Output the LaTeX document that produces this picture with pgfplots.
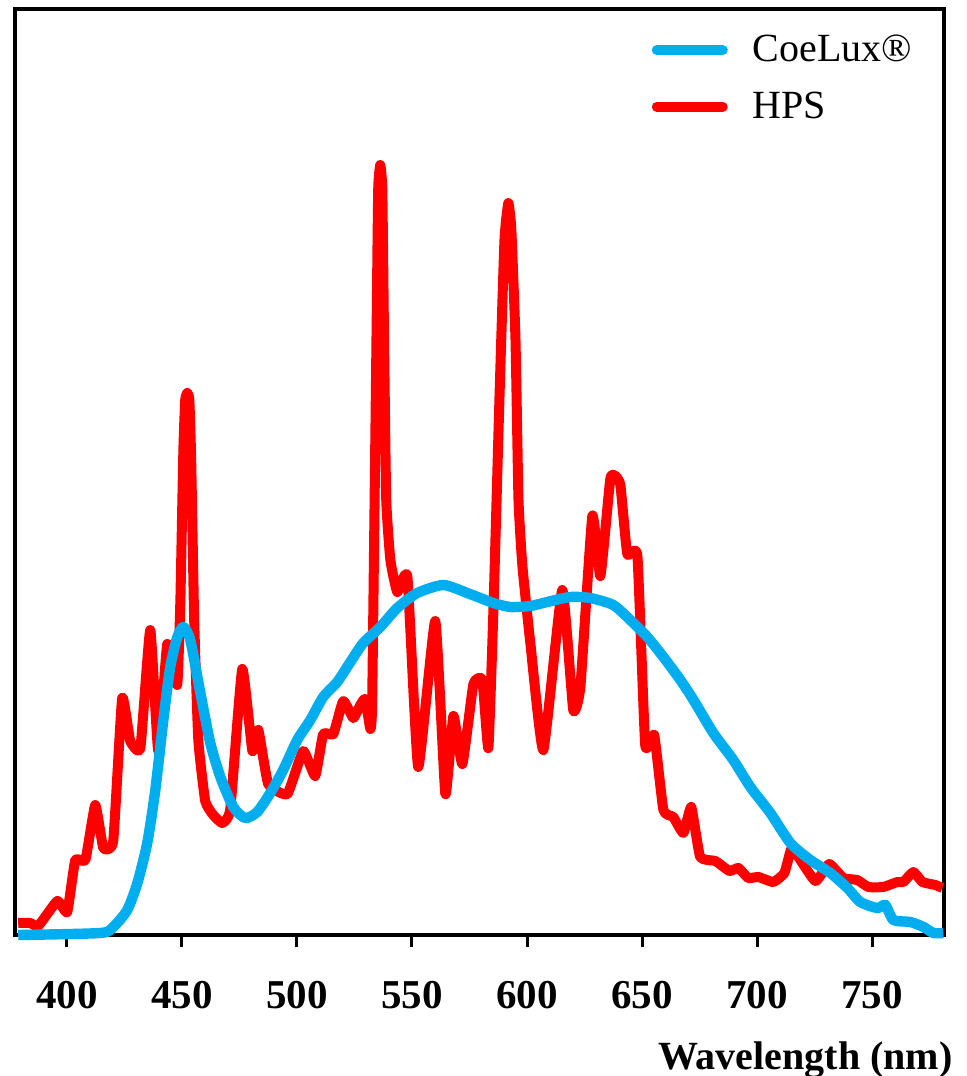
\documentclass[border=0pt]{standalone}
\usepackage{fontspec}
\setmainfont{Liberation Serif}
\usepackage{pgfplots}
\pgfplotsset{compat=1.18}
\definecolor{coelux}{RGB}{0,174,239}
\definecolor{hps}{RGB}{255,0,0}
\begin{document}
\begin{tikzpicture}
\begin{axis}[
 scale only axis, width=464.5pt, height=463pt,
 xmin=377.4, xmax=781.3, ymin=0, ymax=926,
 xtick={400,450,...,750}, ytick=\empty,
 xtick pos=bottom, tick align=outside, major tick length=6pt,
 every tick/.style={black, line width=1.5pt},
 axis line style={line width=1.6pt},
 xticklabel style={font=\fontsize{20.5}{24}\selectfont\bfseries, anchor=north, inner sep=0pt, yshift=-17pt},
 /pgf/number format/assume math mode=true,
 /pgf/number format/1000 sep={},
 xlabel={Wavelength (nm)},
 xlabel style={font=\fontsize{20}{24}\selectfont\bfseries, at={(rel axis cs:1,0)}, anchor=north east, inner sep=0pt, xshift=4.5pt, yshift=-53pt},
 legend style={draw=none, fill=none, at={(rel axis cs:0.685,0.972)}, anchor=north west,
   font=\fontsize{20}{24}\selectfont, row sep=13.5pt, inner sep=0pt,
   nodes={inner sep=0pt, anchor=west}},
 legend image code/.code={\path[draw=none, fill=none] (0pt,0pt) -- (50.5pt,0pt);\draw[#1, line width=5pt, line cap=round] (2.5pt,0pt) -- (35.5pt,0pt);},
 reverse legend,
 clip=false,
]
\addplot[hps, line width=5pt, line join=round, smooth, tension=0.25] coordinates {
(378.8,12)(384.0,12)(387.5,9)(395.8,34)(400.1,23)(403.6,75)(408.0,75)(412.3,130)(415.8,87)(420.1,94)
(424.0,237)(427.5,194)(431.9,187)(436.2,305)(439.7,184)(443.6,291)(447.9,250)(449.3,335)(450.6,485)(451.4,535)
(452.3,542)(453.2,535)(454.0,475)(455.3,315)(457.1,195)(460.1,134)(463.6,120)(467.5,112)(471.0,126)(476.2,266)
(480.6,184)(483.2,205)(487.5,151)(495.8,141)(502.7,184)(507.9,159)(511.4,201)(515.8,201)(520.1,234)(524.5,217)
(527.5,230)(529.7,236)(531.9,206)(532.7,235)(534.5,585)(535.3,745)(536.2,770)(537.1,745)(537.9,585)(538.8,435)
(540.6,375)(543.6,343)(548.0,358)(552.7,168)(560.1,314)(564.5,141)(568.0,219)(571.9,171)(576.7,251)(580.6,255)
(583.2,187)(585.4,325)(588.0,535)(590.2,695)(591.9,732)(593.2,705)(595.0,595)(596.3,435)(598.0,369)(601.4,293)
(607.1,185)(615.3,345)(620.1,225)(623.2,248)(628.4,419)(631.9,359)(636.2,456)(638.4,459)(640.6,450)(643.6,381)
(648.0,379)(651.4,190)(655.3,200)(659.3,125)(663.6,118)(668.0,102)(671.4,128)(675.3,78)(681.9,74)(688.0,64)
(691.9,67)(696.2,57)(700.6,58)(707.1,53)(711.9,62)(714.9,86)(718.0,78)(725.4,54)(731.4,71)(737.5,57)
(743.6,55)(748.4,48)(754.9,48)(761.0,53)(763.6,53)(768.0,63)(771.9,53)(777.5,50)(780.6,47)
};
\addlegendentry{HPS}
\addplot[coelux, line width=5.2pt, line join=round, smooth, tension=0.4] coordinates {
(378.8,0)(414.5,2)(420.1,8)(426.2,25)(430.6,52)(434.9,92)(438.4,145)(441.9,215)(444.9,268)(448.0,298)
(450.6,308)(453.6,295)(458.0,242)(462.3,192)(466.7,158)(472.3,128)(477.5,117)(482.7,123)(488.4,142)(494.0,165)
(500.1,195)(505.8,215)(511.4,238)(517.5,253)(523.2,273)(528.8,292)(536.2,308)(543.6,327)(552.3,342)(563.6,350)
(574.0,342)(579.7,337)(585.4,332)(592.7,328)(601.4,329)(608.8,333)(618.8,338)(627.5,337)(637.5,330)(644.9,315)
(652.3,298)(659.3,278)(666.7,255)(672.4,235)(681.0,202)(689.7,175)(697.1,148)(705.8,122)(714.5,92)(723.2,75)
(731.9,62)(739.3,47)(744.9,33)(752.3,27)(755.8,30)(759.3,15)(766.7,13)(772.4,8)(776.7,2)(781.0,2)
};
\addlegendentry{CoeLux®}
\end{axis}
\pgfresetboundingbox
\path[use as bounding box] ([xshift=-7.5pt,yshift=-70.5pt]current axis.south west) rectangle ++(483pt,538pt);
\end{tikzpicture}
\end{document}
